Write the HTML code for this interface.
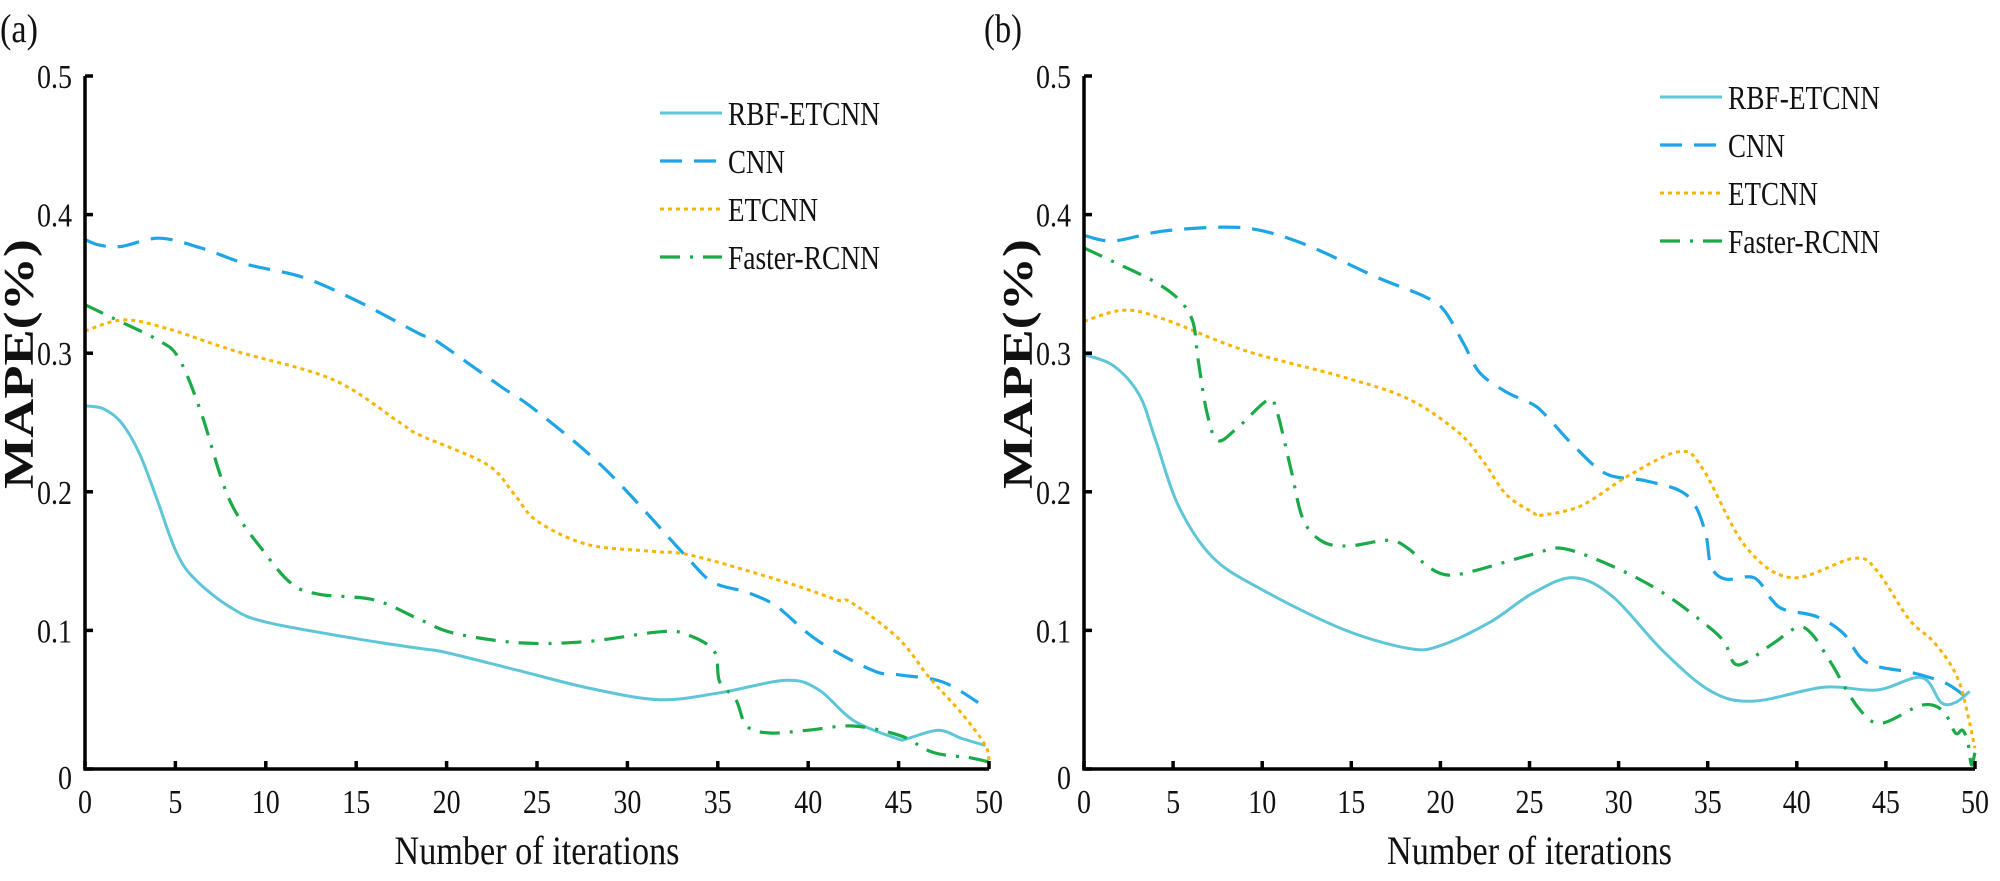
<!DOCTYPE html>
<html><head><meta charset="utf-8"><style>
html,body{margin:0;padding:0;background:#fff;}
svg{display:block;font-family:"Liberation Serif",serif;}
</style></head><body>
<svg id="chart" width="2000" height="881" viewBox="0 0 2000 881" xmlns="http://www.w3.org/2000/svg"></svg>
<script>
const xTicks = [0,5,10,15,20,25,30,35,40,45,50];
const yTicks = [0,0.1,0.2,0.3,0.4,0.5];
const yTickLabels = ["0","0.1","0.2","0.3","0.4","0.5"];
const seriesNames = ["RBF-ETCNN","CNN","ETCNN","Faster-RCNN"];

// Panel (a)
const aRbfX = [0,1,2,3,4,5,6,8,10,15,18.5,20,24,28,31.8,35.1,38.8,40.6,42.5,44.9,45.5,47.2,48.5,49.8];
const aRbfY = [0.262,0.26,0.25,0.228,0.194,0.158,0.138,0.117,0.106,0.094,0.087,0.084,0.071,0.058,0.05,0.055,0.064,0.057,0.035,0.022,0.022,0.028,0.022,0.017];
const aCnnX = [0,0.8,2,4.1,6.4,9,12,15,18.5,19.3,23,24.9,28.8,33.2,34.7,36.5,37.8,38.4,40.6,43.6,45,47.4,49.4];
const aCnnY = [0.382,0.378,0.377,0.383,0.376,0.364,0.355,0.338,0.314,0.31,0.276,0.259,0.216,0.154,0.135,0.128,0.121,0.116,0.092,0.071,0.068,0.063,0.048];
const aEtX = [0,2.1,4.5,8.2,13.7,17.4,18.5,22.2,23.7,25,27.8,31.4,33.6,38.7,41.6,42.4,45,46.7,48.5,49.8,50];
const aEtY = [0.316,0.324,0.318,0.302,0.281,0.25,0.241,0.22,0.199,0.179,0.162,0.157,0.154,0.135,0.122,0.12,0.094,0.066,0.04,0.017,0.005];
const aFrX = [0,1.6,4.1,5.2,6.4,8,10,11.5,13,16,18.5,20.4,24.1,27.8,31.8,33.3,34.8,35.1,36,36.6,37.9,40,42.5,45.1,46.9,49,50];
const aFrY = [0.335,0.325,0.309,0.296,0.258,0.194,0.155,0.133,0.126,0.122,0.108,0.098,0.091,0.092,0.099,0.097,0.085,0.063,0.05,0.031,0.026,0.028,0.031,0.024,0.012,0.008,0.005];

// Panel (b)
const bRbfX = [0,1.65,3.1,4,5.3,7.2,9.9,14.5,18.2,20,22.8,25.2,27.5,29.7,32.5,35.2,37.6,41.5,44.5,47,48.1,48.9,49.7];
const bRbfY = [0.299,0.291,0.27,0.238,0.19,0.153,0.13,0.101,0.087,0.089,0.106,0.127,0.138,0.124,0.085,0.056,0.049,0.059,0.057,0.066,0.048,0.048,0.056];
const bCnnX = [0,1.65,4.4,7.9,10.1,12.7,16.4,19.1,20.2,21.3,22.2,23.7,25.2,26,27.5,29.3,31.5,33.4,34.3,34.9,35.2,36,37.6,38.6,39.3,41.1,42.6,43.9,46.3,47.2,48.5,49.7];
const bCnnY = [0.385,0.381,0.388,0.391,0.388,0.377,0.355,0.341,0.331,0.307,0.286,0.272,0.263,0.254,0.233,0.213,0.208,0.201,0.19,0.169,0.146,0.137,0.138,0.122,0.115,0.11,0.098,0.077,0.07,0.067,0.061,0.05];
const bEtX = [0,2.2,4.4,9,14.5,18.2,21,22.4,23.7,25.2,25.6,27.9,30.6,33.4,34.7,37.1,39.7,43.2,44.5,46.3,47.8,49.1,50];
const bEtY = [0.323,0.331,0.325,0.302,0.283,0.267,0.243,0.222,0.198,0.185,0.183,0.19,0.212,0.229,0.217,0.161,0.138,0.152,0.143,0.108,0.09,0.063,0.015];
const bFrX = [0,1.65,3.9,5.3,6.1,6.4,6.9,7.5,8.6,10.3,10.8,11.6,12.3,13.4,14.9,17.1,18.2,19.3,20.4,21.9,25.2,26.9,29.7,32.5,35.2,36,36.7,38.6,40,40.8,41.9,43.4,44.7,47,48.2,48.9,49.3,49.6,49.8,50];
const bFrY = [0.376,0.366,0.352,0.339,0.323,0.296,0.257,0.237,0.246,0.266,0.259,0.217,0.18,0.164,0.161,0.165,0.159,0.146,0.14,0.143,0.155,0.159,0.146,0.127,0.101,0.09,0.075,0.09,0.102,0.098,0.077,0.045,0.033,0.046,0.042,0.026,0.028,0.019,0.003,0.012];

const NS = "http://www.w3.org/2000/svg";
const svg = document.getElementById("chart");
function mk(tag, attrs, parent){
  const e = document.createElementNS(NS, tag);
  for (const k in attrs) e.setAttribute(k, attrs[k]);
  (parent||svg).appendChild(e);
  return e;
}
function smooth(pts){
  let d = "M"+pts[0][0].toFixed(1)+","+pts[0][1].toFixed(1);
  for (let i=0;i<pts.length-1;i++){
    const p0=pts[Math.max(0,i-1)], p1=pts[i], p2=pts[i+1], p3=pts[Math.min(pts.length-1,i+2)];
    const c1=[p1[0]+(p2[0]-p0[0])/6, p1[1]+(p2[1]-p0[1])/6];
    const c2=[p2[0]-(p3[0]-p1[0])/6, p2[1]-(p3[1]-p1[1])/6];
    d += " C"+c1[0].toFixed(1)+","+c1[1].toFixed(1)+" "+c2[0].toFixed(1)+","+c2[1].toFixed(1)+" "+p2[0].toFixed(1)+","+p2[1].toFixed(1);
  }
  return d;
}
const colors = ["#5fc6d8","#1ea5e6","#f7b500","#1aaa48"];
const dashes = ["none","22 12","4 4","20 10 3 10"];
const widths = [3,3.2,3,3.2];
function lblLen(s){ let n=0; for (const c of s) n += (c==='.'?7:14); return n; }

function panel(cfg){
  const g = mk("g",{});
  
  
  const X0=cfg.x0, X1=cfg.x1, Y0=769, Y1=76;
  const sx = v => X0 + (v-0)/(50)*(X1-X0);
  const sy = v => Y0 - v/0.5*(Y0-Y1);
  // series
  cfg.series.forEach((s,i)=>{
    const pts = s[0].map((x,j)=>[sx(x), sy(s[1][j])]);
    const p = mk("path",{d:smooth(pts),fill:"none",stroke:colors[i],"stroke-width":widths[i],"stroke-dasharray":dashes[i]},g);
    
    
  });
  // axes
  const ax = mk("path",{d:`M${X0},${Y1} L${X0},${Y0} L${X1},${Y0}`,fill:"none",stroke:"#000","stroke-width":3.5},g);
  
  
  xTicks.forEach(t=>{
    const x=sx(t);
    mk("line",{x1:x,y1:Y0,x2:x,y2:Y0-8,stroke:"#000","stroke-width":3.5},g);
    const tx = mk("text",{x:x,y:Y0+44,"text-anchor":"middle","font-size":34,textLength:lblLen(String(t)),lengthAdjust:"spacingAndGlyphs",fill:"#111"},g);
    tx.textContent = String(t);
    
    
  });
  yTicks.forEach((t,i)=>{
    const y=sy(t);
    mk("line",{x1:X0,y1:y,x2:X0+8,y2:y,stroke:"#000","stroke-width":3.5},g);
    const lab = yTickLabels[i];
    const ty = mk("text",{x:X0-13,y:y+(i===0?20:12),"text-anchor":"end","font-size":34,textLength:lblLen(lab),lengthAdjust:"spacingAndGlyphs",fill:"#111"},g);
    ty.textContent = lab;
    
    
  });
  const xt = mk("text",{x:(X0+X1)/2,y:864,"text-anchor":"middle","font-size":40,textLength:285,lengthAdjust:"spacingAndGlyphs",fill:"#111"},g);
  xt.textContent = "Number of iterations";
  
  
  const yt = mk("text",{x:0,y:0,"text-anchor":"middle","font-size":42,"font-weight":"bold",textLength:250,lengthAdjust:"spacingAndGlyphs",fill:"#111",transform:`translate(${X0-52},364) rotate(-90)`},g);
  yt.textContent = "MAPE(%)";
  
  
  const pl = mk("text",{x:cfg.lx,y:42,"font-size":40,textLength:38,lengthAdjust:"spacingAndGlyphs",fill:"#111"},g);
  pl.textContent = cfg.label;
  
  
  // legend
  seriesNames.forEach((n,i)=>{
    const y = cfg.legY + i*cfg.legStep;
    const ln = mk("line",{x1:cfg.legX,y1:y,x2:cfg.legX+62,y2:y,stroke:colors[i],"stroke-width":widths[i],"stroke-dasharray":dashes[i]},g);
    
    
    const lens=[152,57,90,152];
    const t = mk("text",{x:cfg.legX+68,y:y+12,"font-size":34,textLength:lens[i],lengthAdjust:"spacingAndGlyphs",fill:"#111"},g);
    t.textContent = n;
    
    
  });
}
panel({name:"panel-a",label:"(a)",lx:0,x0:85,x1:989,legX:660,legY:113,legStep:48,
  series:[[aRbfX,aRbfY],[aCnnX,aCnnY],[aEtX,aEtY],[aFrX,aFrY]]});
panel({name:"panel-b",label:"(b)",lx:984,x0:1084,x1:1975,legX:1660,legY:97,legStep:48,
  series:[[bRbfX,bRbfY],[bCnnX,bCnnY],[bEtX,bEtY],[bFrX,bFrY]]});
</script>
</body></html>
